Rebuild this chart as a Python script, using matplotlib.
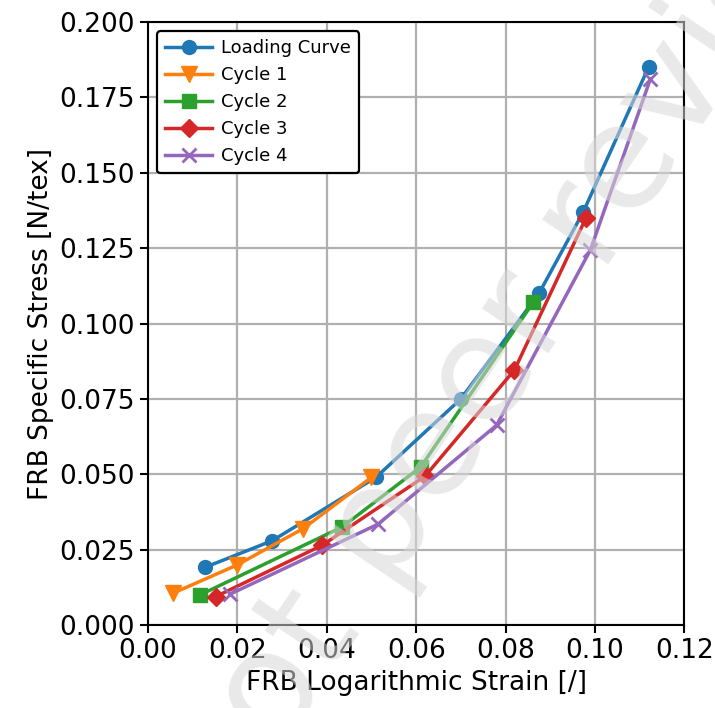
import matplotlib.pyplot as plt

# strain [/] and specific stress [N/tex] for each curve
loading_x = [0.0128, 0.0278, 0.0510, 0.0700, 0.0875, 0.0974, 0.1120]
loading_y = [0.0192, 0.0280, 0.0490, 0.0750, 0.1100, 0.1370, 0.1850]

cycle1_x = [0.0056, 0.0200, 0.0347, 0.0500]
cycle1_y = [0.0106, 0.0200, 0.0320, 0.0490]

cycle2_x = [0.0116, 0.0434, 0.0610, 0.0862]
cycle2_y = [0.0100, 0.0325, 0.0524, 0.1070]

cycle3_x = [0.0152, 0.0390, 0.0620, 0.0820, 0.0980]
cycle3_y = [0.0095, 0.0265, 0.0494, 0.0846, 0.1350]

cycle4_x = [0.0184, 0.0515, 0.0780, 0.0990, 0.1124]
cycle4_y = [0.0103, 0.0335, 0.0663, 0.1244, 0.1810]

fig = plt.figure(figsize=(7.15, 7.08), dpi=100)
ax = fig.add_axes([0.207, 0.117, 0.750, 0.852])

lw = 2.5
ms = 10
ax.plot(loading_x, loading_y, marker='o', lw=lw, ms=ms, color='tab:blue', label='Loading Curve')
ax.plot(cycle1_x, cycle1_y, marker='v', lw=lw, ms=ms + 1, color='tab:orange', label='Cycle 1')
ax.plot(cycle2_x, cycle2_y, marker='s', lw=lw, ms=ms, color='tab:green', label='Cycle 2')
ax.plot(cycle3_x, cycle3_y, marker='D', lw=lw, ms=ms - 0.5, color='tab:red', label='Cycle 3')
ax.plot(cycle4_x, cycle4_y, marker='x', lw=lw, ms=ms, mew=2, color='tab:purple', label='Cycle 4')

ax.set_xlim(0, 0.12)
ax.set_ylim(0, 0.2)
ax.set_xticks([0.00, 0.02, 0.04, 0.06, 0.08, 0.10, 0.12])
ax.set_yticks([0.000, 0.025, 0.050, 0.075, 0.100, 0.125, 0.150, 0.175, 0.200])
ax.xaxis.set_major_formatter(plt.FormatStrFormatter('%.2f'))
ax.yaxis.set_major_formatter(plt.FormatStrFormatter('%.3f'))
ax.tick_params(labelsize=19, width=1.5, length=6)
for s in ax.spines.values():
    s.set_linewidth(1.5)
ax.grid(True, color='#b0b0b0', lw=1.6)
ax.set_axisbelow(True)

ax.set_xlabel('FRB Logarithmic Strain [/]', fontsize=19)
ax.set_ylabel('FRB Specific Stress [N/tex]', fontsize=19)

leg = ax.legend(loc='upper left', fontsize=13, edgecolor='black', framealpha=1,
                handlelength=2.6, borderpad=0.45, labelspacing=0.5, handletextpad=0.5)
leg.get_frame().set_linewidth(1.6)

# faint diagonal stamp across the figure
fig.text(0.795, 0.645, 'not peer reviewed', rotation=56, fontsize=106,
         color='#d8d8d8', alpha=0.55, ha='center', va='center', zorder=10)

fig.savefig('out.png', dpi=100)
